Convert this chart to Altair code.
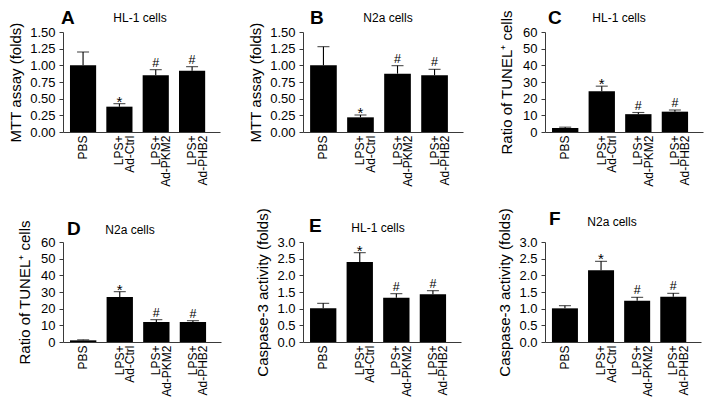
import altair as alt
import pandas as pd

groups = ["PBS", "LPS+\nAd-Ctrl", "LPS+\nAd-PKM2", "LPS+\nAd-PHB2"]
markers = ["", "*", "#", "#"]

# Panel A: MTT, HL-1
a_vals = [1.00, 0.38, 0.85, 0.92]
a_errs = [0.20, 0.045, 0.085, 0.06]
# Panel B: MTT, N2a
b_vals = [1.00, 0.22, 0.875, 0.85]
b_errs = [0.28, 0.035, 0.12, 0.09]
# Panel C: TUNEL, HL-1
c_vals = [2.4, 24.5, 10.7, 12.2]
c_errs = [0.5, 3.0, 1.0, 1.0]
# Panel D: TUNEL, N2a
d_vals = [1.0, 27.0, 12.0, 12.0]
d_errs = [0.3, 3.2, 1.4, 0.8]
# Panel E: Caspase-3, HL-1
e_vals = [1.01, 2.40, 1.33, 1.43]
e_errs = [0.15, 0.28, 0.12, 0.11]
# Panel F: Caspase-3, N2a
f_vals = [1.01, 2.15, 1.24, 1.36]
f_errs = [0.08, 0.27, 0.10, 0.10]

mtt_ticks = [0, 0.25, 0.5, 0.75, 1.0, 1.25, 1.5]
tunel_ticks = [0, 10, 20, 30, 40, 50, 60]
casp_ticks = [0, 0.5, 1.0, 1.5, 2.0, 2.5, 3.0]

AXIS_COLOR = "#3a3a3a"
TITLE_SIZE = 15


def panel(vals, errs, ytitle, ticks, fmt, subtitle, letter, width,
          sub_dx, sub_dy, letter_dx, letter_dy, ytitle_pad):
    df = pd.DataFrame({"group": groups, "value": vals, "err": errs, "mark": markers})
    df["top"] = df["value"] + df["err"]
    dom = [ticks[0], ticks[-1]]
    xscale = alt.Scale(paddingInner=0.28, paddingOuter=0.3, align=0.32)
    yscale = alt.Scale(domain=dom, nice=False, zero=True)
    xaxis = alt.Axis(labelAngle=-90, labelExpr="split(datum.label, '\\n')",
                     ticks=False, labelFontSize=12, labelLineHeight=10.5,
                     labelPadding=3)
    yaxis = alt.Axis(values=ticks, tickCount=len(ticks), format=fmt, title=ytitle,
                     labelOverlap=False, titleFontSize=TITLE_SIZE,
                     titleFontWeight="normal", titlePadding=ytitle_pad)
    xs = alt.X("group:N", sort=groups, title=None, scale=xscale, axis=xaxis)
    yv = alt.Y("value:Q", scale=yscale, axis=yaxis, title=ytitle)
    yt = alt.Y("top:Q", scale=yscale, axis=yaxis, title=ytitle)
    base = alt.Chart(df)
    bars = base.mark_bar(color="black").encode(x=xs, y=yv)
    rule = base.mark_rule(color="black", strokeWidth=1.1).encode(
        x=xs, y=yv, y2="top:Q")
    cap = base.mark_tick(color="black", size=12, thickness=1.1).encode(x=xs, y=yt)
    star = base.transform_filter("datum.mark == '*'").mark_text(
        fontSize=15, dy=3, baseline="alphabetic", color="black").encode(
        x=xs, y=yt, text="mark:N")
    hashm = base.transform_filter("datum.mark == '#'").mark_text(
        fontSize=12.5, dy=-3, baseline="alphabetic", color="black").encode(
        x=xs, y=yt, text="mark:N")
    head = pd.DataFrame({"letter": [letter], "sub": [subtitle]})
    lab = alt.Chart(head).mark_text(
        fontSize=19, fontWeight="bold", align="left", baseline="alphabetic",
        color="black").encode(
        x=alt.value(letter_dx), y=alt.value(letter_dy), text="letter:N")
    sub = alt.Chart(head).mark_text(
        fontSize=12, align="center", baseline="alphabetic", color="black").encode(
        x=alt.value(width / 2 + sub_dx), y=alt.value(sub_dy), text="sub:N")
    return alt.layer(bars, rule, cap, star, hashm, lab, sub).properties(
        width=width, height=100)


pA = panel(a_vals, a_errs, "MTT assay (folds)", mtt_ticks, ".2f", "HL-1 cells", "A",
           157, -1.5, -10, -2, -8, 6)
pB = panel(b_vals, b_errs, "MTT assay (folds)", mtt_ticks, ".2f", "N2a cells", "B",
           160, 5, -10, 7, -8, 6)
pC = panel(c_vals, c_errs, "Ratio of TUNEL\u207a cells", tunel_ticks, "d", "HL-1 cells", "C",
           158, -5, -10, 3, -8, 8)
pD = panel(d_vals, d_errs, "Ratio of TUNEL\u207a cells", tunel_ticks, "d", "N2a cells", "D",
           158, -12, -8, 4, -7, 8)
pE = panel(e_vals, e_errs, "Caspase-3 activity (folds)", casp_ticks, ".1f", "HL-1 cells", "E",
           158, -4, -10, 6, -10, 6)
pF = panel(f_vals, f_errs, "Caspase-3 activity (folds)", casp_ticks, ".1f", "N2a cells", "F",
           156, -11, -16, 4, -17, 6)

chart = alt.concat(
    pA, pB, pC, pD, pE, pF, columns=3,
    spacing={"row": 110, "column": 82}, bounds="flush", align="none",
).properties(
    padding={"left": 0, "top": 0, "right": 0, "bottom": 0},
).configure(
    font="Liberation Sans",
).configure_view(
    stroke="transparent",
).configure_axis(
    grid=False, domainColor=AXIS_COLOR, tickColor=AXIS_COLOR,
    labelColor="black", titleColor="black",
    titleFontSize=TITLE_SIZE, titleFontWeight="normal",
).configure_axisY(
    tickSize=4, labelFontSize=13, labelPadding=4,
    titleFontSize=TITLE_SIZE, titleFontWeight="normal",
).configure_axisX(
    labelFontSize=12, labelPadding=3,
)

chart.save("out.html", embed_options={"renderer": "svg", "actions": False})
